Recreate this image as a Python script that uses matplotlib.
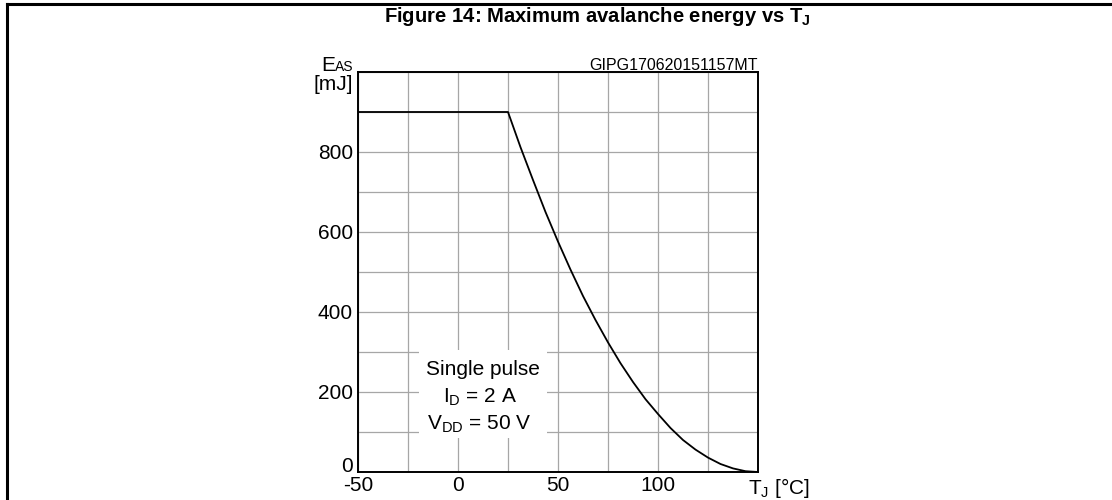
import matplotlib
matplotlib.use("Agg")
import matplotlib.pyplot as plt
from matplotlib.lines import Line2D
from matplotlib.patches import Rectangle

plt.rcParams['font.family'] = ['Liberation Sans', 'DejaVu Sans']
plt.rcParams['mathtext.fontset'] = 'custom'
plt.rcParams['mathtext.rm'] = 'Liberation Sans'
plt.rcParams['mathtext.it'] = 'Liberation Sans'
plt.rcParams['mathtext.bf'] = 'Liberation Sans:bold'

# Data (Tj in degC, Eas in mJ)
temp = [-50, 25, 31.25, 37.5, 43.75, 50, 56.25, 62.5, 68.75, 75, 81.25, 87.5,
        93.75, 100, 106.25, 112.5, 118.75, 125, 131.25, 137.5, 143.75, 150]
energy = [900, 900, 812, 730, 650, 576, 506, 440, 380, 324, 272, 225,
          182, 145, 110, 80, 56, 36, 20, 9, 2, 0]

x_ticks = [-50, 0, 50, 100]
y_ticks = [0, 200, 400, 600, 800]

FS = 15

fig = plt.figure(figsize=(11.12, 5.0), dpi=100)

# outer frame (top + left only)
fig.add_artist(Line2D([7 / 1112, 1.0], [1 - 4 / 500, 1 - 4 / 500], color='black', lw=2.2))
fig.add_artist(Line2D([7 / 1112, 7 / 1112], [0, 1 - 4 / 500], color='black', lw=2.2))

fig.text(597 / 1112, 1 - 16 / 500, r'Figure 14: Maximum avalanche energy vs T$_\mathbf{J}$',
         ha='center', va='center', fontsize=14.6, fontweight='bold')

ax = fig.add_axes([358 / 1112, 28 / 500, 400 / 1112, 400 / 500])
ax.plot(temp, energy, color='black', lw=1.3, zorder=3)

ax.set_xlim(-50, 150)
ax.set_ylim(0, 1000)
ax.set_xticks(range(-50, 151, 25))
ax.set_yticks(range(0, 1001, 100))
ax.grid(True, color='#a6a6a6', lw=0.9)
ax.tick_params(length=0, labelbottom=False, labelleft=False)
for s in ax.spines.values():
    s.set_linewidth(1.4)

for v in x_ticks:
    ax.text(v, -10, str(v), ha='center', va='top', fontsize=FS, clip_on=False)
for v in y_ticks:
    yy = 14 if v == 0 else v - 4
    ax.text(-52.5, yy, str(v), ha='right', va='center', fontsize=FS, clip_on=False)

ax.text(145, -10, r'T$_\mathregular{J}$ [°C]', ha='left', va='top', fontsize=FS)

# y axis name, subscript drawn as its own small text
ax.text(-61.5, 1003, 'E', ha='right', va='baseline', fontsize=FS)
ax.text(-52.5, 1003, 'AS', ha='right', va='baseline', fontsize=10)
ax.text(-52.5, 955, '[mJ]', ha='right', va='baseline', fontsize=FS)
ax.text(150, 1005, 'GIPG170620151157MT', ha='right', va='baseline', fontsize=11.5)

# note on a white patch
ax.add_patch(Rectangle((-19.5, 85), 64, 220, fc='white', ec='none', zorder=4))
ax.text(12.5, 242, 'Single pulse', ha='center', va='baseline', fontsize=FS, zorder=5)
ax.text(-7.5, 172.5, r'I$_\mathregular{D}$ = 2 A', ha='left', va='baseline', fontsize=FS, zorder=5)
ax.text(-15.5, 105, r'V$_\mathregular{DD}$ = 50 V', ha='left', va='baseline', fontsize=FS, zorder=5)

fig.savefig('out.png', dpi=100)
